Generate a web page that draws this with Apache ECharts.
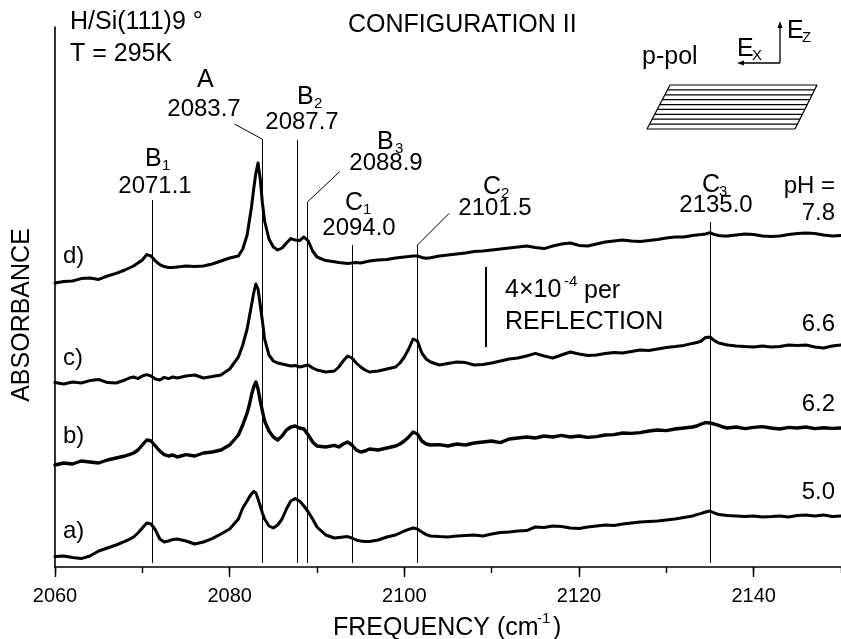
<!DOCTYPE html>
<html>
<head>
<meta charset="utf-8">
<title>H/Si(111) absorbance spectra</title>
<script src="https://cdn.jsdelivr.net/npm/echarts@6/dist/echarts.min.js"></script>
<style>
  html, body { margin: 0; padding: 0; background: #fff; }
  #chart { width: 841px; height: 639px; }
</style>
</head>
<body>
<div id="chart"></div>
<script>
// Sampling frequencies (cm^-1), shared by all four spectra
const freq = [
  2060,2061,2062,2063,2064,2065,2066,2067,2068,
  2068.5,2069,2069.5,2070,2070.5,2071,2071.5,2072,2072.5,2073,2073.5,2074,
  2075,2076,2077,2078,2079,2080,2081,
  2081.5,2082,2082.25,2082.5,2082.75,2083,2083.25,2083.5,2083.75,2084,2084.5,2085,2085.5,2086,2086.5,2087,2087.5,2088,2088.5,2089,2089.5,2090,
  2091,2092,
  2092.5,2093,2093.5,2094,2094.5,2095,2095.5,
  2096,2097,2098,2099,
  2099.5,2100,2100.5,2101,2101.5,2102,2102.5,2103,
  2104,2105,2106,2107,2108,2109,2110,2111,2112,2113,2114,2115,2116,2117,2118,2119,2120,2121,2122,2123,2124,2125,2126,2127,2128,2129,2130,2131,2132,2133,
  2133.5,2134,2134.5,2135,2135.5,2136,2136.5,
  2137,2138,2139,2140,2141,2142,2143,2144,2145,2146,2147,2148,2149,2150
];

// Absorbance in units of 1e-4, each spectrum offset for display
const absD = [
  14.2,14.28,14.3,14.42,14.45,14.38,14.55,14.68,14.85,
  14.95,15.05,15.2,15.35,15.62,15.55,15.3,15.12,15.02,14.98,14.97,15.0,
  15.05,15.02,15.05,15.15,15.3,15.45,15.55,
  15.9,16.6,17.3,18.0,18.9,19.7,20.2,19.4,18.2,17.3,16.4,16.0,15.85,15.95,16.2,16.42,16.35,16.32,16.5,16.3,15.8,15.5,
  15.32,15.26,
  15.22,15.2,15.18,15.2,15.22,15.2,15.25,
  15.3,15.35,15.38,15.45,
  15.48,15.5,15.52,15.55,15.55,15.48,15.44,15.46,
  15.55,15.6,15.65,15.7,15.77,15.8,15.85,15.9,15.95,16.0,16.05,15.98,15.92,16.05,16.15,16.2,16.08,16.05,16.15,16.25,16.3,16.35,16.3,16.28,16.32,16.38,16.45,16.5,16.5,16.58,
  16.6,16.62,16.65,16.72,16.62,16.58,16.55,
  16.55,16.6,16.65,16.62,16.55,16.52,16.55,16.62,16.68,16.7,16.68,16.6,16.55,16.58
];
const absC = [
  9.22,9.15,9.25,9.2,9.32,9.38,9.22,9.2,9.35,
  9.45,9.5,9.42,9.55,9.62,9.55,9.4,9.35,9.48,9.42,9.5,9.45,
  9.55,9.6,9.45,9.52,9.6,9.9,10.5,
  11.1,11.9,12.5,13.1,13.7,14.15,13.9,13.1,12.3,11.4,10.6,10.3,10.2,10.15,10.1,10.05,10.08,10.0,10.05,10.1,9.95,9.85,
  9.75,9.8,
  10.0,10.3,10.55,10.45,10.2,10.0,9.85,
  9.75,9.8,9.9,10.0,
  10.2,10.5,10.9,11.4,11.3,10.7,10.4,10.25,
  10.1,10.18,10.25,10.22,10.1,10.12,10.2,10.3,10.4,10.45,10.55,10.68,10.55,10.45,10.6,10.75,10.65,10.58,10.6,10.68,10.72,10.7,10.78,10.85,10.82,10.9,10.98,11.02,11.08,11.18,
  11.22,11.3,11.48,11.5,11.32,11.2,11.15,
  11.1,11.05,11.02,11.0,11.05,11.0,11.02,11.1,11.08,11.1,11.0,10.95,11.05,11.1
];
const absB = [
  5.1,5.2,5.15,5.3,5.25,5.2,5.35,5.45,5.55,
  5.62,5.7,5.85,6.1,6.35,6.3,6.05,5.8,5.62,5.55,5.6,5.5,
  5.62,5.55,5.7,5.75,5.85,6.1,6.6,
  7.1,7.7,8.1,8.6,9.0,9.25,8.9,8.3,7.8,7.3,6.8,6.5,6.35,6.55,6.85,7.0,7.05,6.95,6.9,6.6,6.25,6.05,
  6.0,6.08,
  6.0,6.15,6.25,6.1,5.85,5.75,5.8,
  5.9,5.85,5.95,6.05,
  6.15,6.3,6.5,6.75,6.65,6.3,6.15,6.1,
  6.12,6.05,6.15,6.1,6.2,6.25,6.3,6.22,6.4,6.45,6.5,6.45,6.55,6.5,6.58,6.5,6.55,6.48,6.52,6.6,6.62,6.7,6.68,6.72,6.8,6.85,6.82,6.9,6.95,7.0,
  7.05,7.15,7.22,7.2,7.15,7.08,7.0,
  6.95,7.0,6.92,6.98,7.02,6.95,6.9,6.98,6.95,7.0,6.92,6.96,6.93,6.95
];
const absA = [
  0.52,0.55,0.48,0.42,0.55,0.8,0.95,1.1,1.28,
  1.38,1.5,1.7,1.95,2.2,2.15,1.85,1.4,1.25,1.3,1.38,1.4,
  1.3,1.15,1.25,1.42,1.65,1.9,2.4,
  2.95,3.3,3.5,3.65,3.78,3.7,3.4,3.05,2.7,2.4,2.05,1.95,2.1,2.4,2.9,3.3,3.42,3.3,3.05,2.75,2.4,2.0,
  1.6,1.45,
  1.48,1.5,1.52,1.45,1.35,1.3,1.28,
  1.27,1.35,1.5,1.6,
  1.7,1.8,1.88,1.95,1.9,1.75,1.62,1.55,
  1.52,1.5,1.55,1.58,1.6,1.55,1.65,1.72,1.75,1.8,1.82,2.0,1.98,2.05,2.02,1.95,1.92,2.0,2.05,2.1,2.08,2.15,2.2,2.25,2.28,2.3,2.35,2.4,2.48,2.55,
  2.62,2.68,2.75,2.8,2.7,2.62,2.6,
  2.58,2.55,2.52,2.55,2.5,2.52,2.55,2.5,2.58,2.6,2.55,2.6,2.52,2.55
];

// Peak assignments: name, subscript, frequency, top of marker line
const peakNames = ['B', 'A', 'B', 'B', 'C', 'C', 'C'];
const peakSubs  = ['1', '', '2', '3', '1', '2', '3'];
const peakFreqs = [2071.1, 2083.7, 2087.7, 2088.9, 2094.0, 2101.5, 2135.0];
const peakTops  = [18.35, 21.4, 21.35, 18.25, 16.1, 16.1, 17.25];
// leader lines from a label to its marker top (frequency, absorbance)
const leaderStarts = { 1: [2080.56, 22.15], 3: [2092.61, 19.77], 5: [2105.14, 17.69] };

const curveLabels = ['d)', 'c)', 'b)', 'a)'];
const phLabels = ['7.8', '6.6', '6.2', '5.0'];
const majorTicks = [2060, 2080, 2100, 2120, 2140];
// scale bar: 4e-4 per reflection
const scaleBarFreq = 2109.27;
const scaleBarRange = [11, 15];

const FONT = '"Liberation Sans", Arial, Helvetica, sans-serif';
const zip = (xs, ys) => xs.map((x, i) => [x, ys[i]]);

const lineMarks = [];
peakFreqs.forEach((f, i) => {
  lineMarks.push([{ coord: [f, peakTops[i]] }, { coord: [f, 0.2] }]);
  if (leaderStarts[i]) {
    lineMarks.push([{ coord: leaderStarts[i] }, { coord: [f, peakTops[i]] }]);
  }
});

function curve(name, ys, width) {
  return {
    name, type: 'line', data: zip(freq, ys), showSymbol: false, symbol: 'none',
    lineStyle: { color: '#000', width: width, join: 'round', cap: 'round' },
    itemStyle: { color: '#000' }, silent: true,
    xAxisIndex: 0, yAxisIndex: 0, z: 3
  };
}

function txt(text, x, y, size, align) {
  return {
    type: 'text', x, y, silent: true,
    style: { text, fill: '#000', font: size + 'px ' + FONT,
      textAlign: align || 'left', textVerticalAlign: 'middle' }
  };
}

const g = [];
// header text
g.push(txt('H/Si(111)9 °', 70, 22, 25));
g.push(txt('T = 295K', 70, 54, 25));
g.push(txt('CONFIGURATION II', 348, 25, 25));
// peak labels
const letterPos = [[145,159],[197,80],[297,97],[377,142],[345,203],[483,187],[702,185]];
const subPos    = [[162,166],null,[314,104],[395,149],[363,210],[501,194],[719,192]];
const numPos    = [[155,186],[204,109],[302,122],[386,163],[359,228],[495,208],[716,205]];
peakNames.forEach((n, i) => {
  g.push(txt(n, letterPos[i][0], letterPos[i][1], 25));
  if (peakSubs[i]) g.push(txt(peakSubs[i], subPos[i][0], subPos[i][1], 15));
  g.push(txt(peakFreqs[i].toFixed(1), numPos[i][0], numPos[i][1], 24, 'center'));
});
// pH column
g.push(txt('pH =', 835, 186, 24, 'right'));
const phY = [213, 324, 404, 492];
phLabels.forEach((p, i) => g.push(txt(p, 835, phY[i], 24, 'right')));
// spectrum letters
const curveY = [256, 358, 436, 531];
curveLabels.forEach((c, i) => g.push(txt(c, 63, curveY[i], 24)));
// scale bar caption
g.push(txt('4×10', 505, 290, 25));
g.push(txt('-4', 564, 282, 15));
g.push(txt('per', 584, 291, 25));
g.push(txt('REFLECTION', 505, 322, 25));
// axis titles
g.push({
  type: 'text', x: 22, y: 315, rotation: Math.PI / 2, silent: true,
  style: { text: 'ABSORBANCE', fill: '#000', font: '25px ' + FONT, textAlign: 'center', textVerticalAlign: 'middle' }
});
g.push(txt('FREQUENCY (cm', 333, 628, 25));
g.push(txt('-1', 537, 619, 15));
g.push(txt(')', 553, 628, 25));
// polarisation sketch
g.push(txt('p-pol', 642, 57, 25));
g.push(txt('E', 737, 49, 25));
g.push(txt('X', 752, 56, 15));
g.push(txt('E', 787, 31, 25));
g.push(txt('Z', 802, 38, 15));
const stroke = { stroke: '#000', lineWidth: 1.3, fill: null };
g.push({ type: 'polyline', silent: true, shape: { points: [[780, 63], [780, 25]] }, style: stroke });
g.push({ type: 'polyline', silent: true, shape: { points: [[780, 63], [742, 63]] }, style: stroke });
g.push({ type: 'polygon', silent: true, shape: { points: [[780, 21], [777.5, 28], [782.5, 28]] }, style: { fill: '#000' } });
g.push({ type: 'polygon', silent: true, shape: { points: [[737, 63], [744, 60.5], [744, 65.5]] }, style: { fill: '#000' } });
// layered slab
const slabTop = 85, slabBottom = 129, slabLines = 10;
for (let k = 0; k < slabLines; k++) {
  const y = slabTop + (slabBottom - slabTop) * k / (slabLines - 1);
  const t = (y - slabTop) / (slabBottom - slabTop);
  g.push({ type: 'line', silent: true,
    shape: { x1: 670 - 23 * t, y1: y, x2: 817 - 22 * t, y2: y }, style: { stroke: '#000', lineWidth: 1.2 } });
}
g.push({ type: 'line', silent: true, shape: { x1: 670, y1: slabTop, x2: 647, y2: slabBottom }, style: { stroke: '#000', lineWidth: 1.2 } });
g.push({ type: 'line', silent: true, shape: { x1: 817, y1: slabTop, x2: 795, y2: slabBottom }, style: { stroke: '#000', lineWidth: 1.2 } });

const chart = echarts.init(document.getElementById('chart'), null, { renderer: 'canvas' });
chart.setOption({
  animation: false,
  backgroundColor: '#fff',
  grid: { left: 55, top: 27, width: 790, height: 540, containLabel: false },
  xAxis: [
    {
      type: 'value', min: 2060, max: 2150, position: 'bottom',
      axisLine: { show: true, onZero: false, lineStyle: { color: '#000', width: 1.6 } },
      axisTick: { show: true, length: 10, customValues: majorTicks, lineStyle: { color: '#000', width: 1.4 } },
      axisLabel: { customValues: majorTicks, color: '#000', fontSize: 20, fontFamily: FONT, margin: 19,
        formatter: v => String(v) },
      splitLine: { show: false }
    },
    {
      // minor ticks every 10 cm^-1 (majors overlap them)
      type: 'value', min: 2060, max: 2150, interval: 10, position: 'bottom',
      axisLine: { show: false, onZero: false },
      axisTick: { show: true, length: 6, lineStyle: { color: '#000', width: 1.4 } },
      axisLabel: { show: false },
      splitLine: { show: false }
    }
  ],
  yAxis: {
    type: 'value', min: 0, max: 27,
    axisLine: { show: true, onZero: false, lineStyle: { color: '#000', width: 1.6 } },
    axisTick: { show: false }, axisLabel: { show: false }, splitLine: { show: false }
  },
  series: [
    curve('d', absD, 3),
    curve('c', absC, 3),
    curve('b', absB, 3.4),
    curve('a', absA, 3),
    {
      name: 'markers', type: 'line', data: [], silent: true,
      markLine: {
        silent: true, symbol: ['none', 'none'], animation: false,
        label: { show: false },
        lineStyle: { color: '#000', width: 1, type: 'solid' },
        emphasis: { disabled: true },
        data: lineMarks.concat([[{ coord: [scaleBarFreq, scaleBarRange[0]] }, { coord: [scaleBarFreq, scaleBarRange[1]], lineStyle: { width: 2 } }]])
      }
    }
  ],
  graphic: g
});
</script>
</body>
</html>
